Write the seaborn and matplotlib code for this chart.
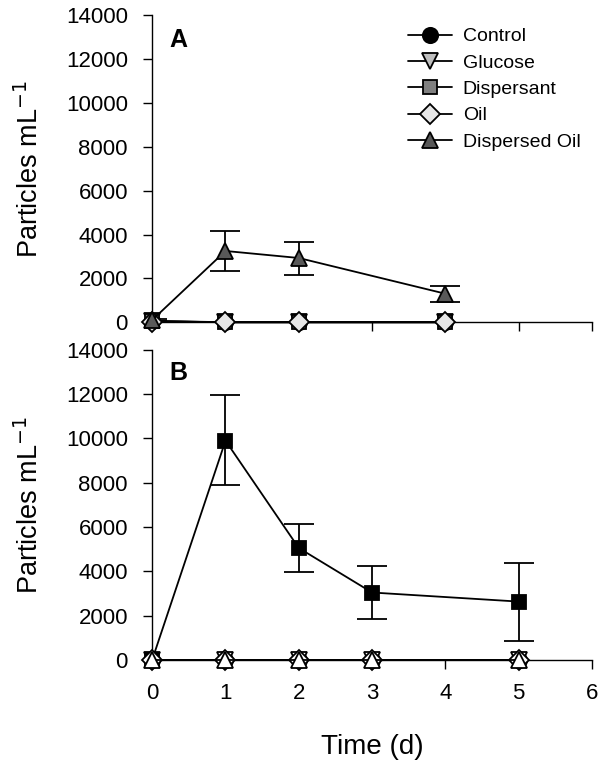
import numpy as np
import pandas as pd
import seaborn as sns
import matplotlib.pyplot as plt

# panel A (days sampled)
days_a = [0, 1, 2, 4]
control_a = [40, 0, 0, 0]
glucose_a = [40, 0, 0, 0]
dispersant_a = [60, 0, 0, 0]
oil_a = [30, 0, 0, 0]
disp_oil_a = [100, 3250, 2930, 1300]
disp_oil_a_lo = [60, 2330, 2140, 930]
disp_oil_a_hi = [140, 4140, 3670, 1630]

# panel B
days_b = [0, 1, 2, 3, 5]
control_b = [0, 0, 0, 0, 0]
glucose_b = [0, 0, 0, 0, 0]
dispersant_b = [0, 9900, 5050, 3040, 2630]
dispersant_b_lo = [0, 7900, 3950, 1860, 860]
dispersant_b_hi = [0, 11950, 6140, 4230, 4360]
oil_b = [0, 0, 0, 0, 0]
disp_oil_b = [0, 0, 0, 0, 0]

names = ["Control", "Glucose", "Dispersant", "Oil", "Dispersed Oil"]
markers = ["o", "v", "s", "D", "^"]
faces_a = ["black", "#bfbfbf", "#808080", "#e6e6e6", "#595959"]
faces_b = ["black", "white", "black", "white", "white"]
sizes = [11, 11, 10, 10, 11]

sns.set_style("white")
plt.rcParams['font.family'] = ['Liberation Sans', 'DejaVu Sans']
plt.rcParams['text.color'] = 'black'
plt.rcParams['axes.labelcolor'] = 'black'

fig = plt.figure(figsize=(6.04, 7.69), dpi=100)
ax_a = fig.add_axes([0.252, 0.581, 0.728, 0.399])
ax_b = fig.add_axes([0.252, 0.142, 0.728, 0.403])


def draw_panel(ax, days, series, faces, err=None):
    for name, vals, m, fc, ms in zip(names, series, markers, faces, sizes):
        df = pd.DataFrame({"day": days, "val": vals})
        sns.lineplot(data=df, x="day", y="val", ax=ax, color="black", lw=1.3,
                     marker=m, markersize=ms, markerfacecolor=fc,
                     markeredgecolor="black", markeredgewidth=1.3, label=name,
                     errorbar=None, zorder=3, clip_on=False)
    if err is not None:
        vals, lo, hi = err
        vals = np.array(vals)
        yerr = [vals - np.array(lo), np.array(hi) - vals]
        ax.errorbar(days, vals, yerr=yerr, fmt="none", ecolor="black",
                    elinewidth=1.3, capsize=11, capthick=1.3, zorder=2)


draw_panel(ax_a, days_a, [control_a, glucose_a, dispersant_a, oil_a, disp_oil_a],
           faces_a, (disp_oil_a, disp_oil_a_lo, disp_oil_a_hi))
draw_panel(ax_b, days_b, [control_b, glucose_b, dispersant_b, oil_b, disp_oil_b],
           faces_b, (dispersant_b, dispersant_b_lo, dispersant_b_hi))

for ax in (ax_a, ax_b):
    ax.set_xlim(0, 6)
    ax.set_ylim(0, 14000)
    ax.set_yticks(range(0, 14001, 2000))
    ax.set_xticks(range(0, 7))
    sns.despine(ax=ax)
    for s in ("left", "bottom"):
        ax.spines[s].set_color("black")
        ax.spines[s].set_linewidth(1.0)
    ax.tick_params(axis="both", direction="out", length=6.5, width=1.0,
                   colors="black", labelsize=16, left=True, bottom=True)
    ax.tick_params(axis="y", pad=11)
    ax.set_ylabel("Particles mL$^{-1}$", fontsize=19.5, labelpad=16)
    ax.set_xlabel("")

ax_a.set_xticklabels([])
ax_b.tick_params(axis="x", pad=10)
ax_b.set_xlabel("Time (d)", fontsize=20, labelpad=22)

ax_a.text(0.039, 0.896, "A", transform=ax_a.transAxes, fontsize=18, fontweight="bold")
ax_b.text(0.039, 0.903, "B", transform=ax_b.transAxes, fontsize=18, fontweight="bold")

ax_a.legend(loc="upper left", frameon=False, fontsize=14, handlelength=2.25,
            handletextpad=0.55, borderaxespad=0, labelspacing=0.45,
            bbox_to_anchor=(0.565, 0.985))
ax_b.get_legend().remove()

fig.savefig("out.png", dpi=100)
